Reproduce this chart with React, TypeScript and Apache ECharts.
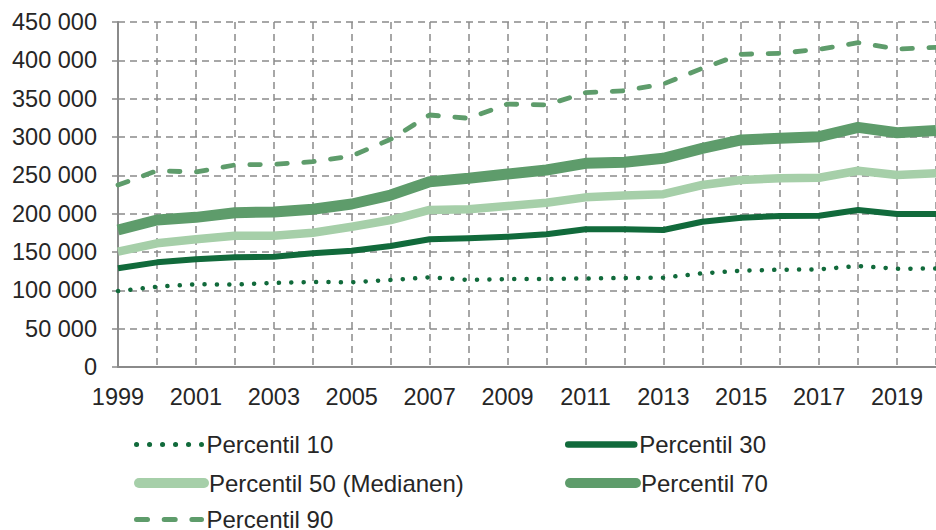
import React, { useEffect, useRef } from "react";
import * as echarts from "echarts";

const years = ["1999","2000","2001","2002","2003","2004","2005","2006","2007","2008","2009","2010","2011","2012","2013","2014","2015","2016","2017","2018","2019","2020"];
const p10 = [99100,104700,107900,107500,109600,110900,110500,113500,117000,113500,114800,114800,115500,116100,116500,122200,125600,126900,127400,131700,128200,128500];
const p30 = [128700,136500,140500,143100,143900,148300,151700,157800,166600,167900,170000,173100,179600,179600,178700,189500,194700,197000,197300,204800,199600,199600];
const p50 = [150400,161300,166600,171300,171300,175200,183000,191700,204800,205700,210000,214300,221300,223600,225400,237400,243900,246100,246900,256000,250400,252600];
const p70 = [178700,191700,195200,201300,202200,205700,212600,224300,241700,246100,251700,257000,265700,267000,272200,285200,296100,298300,300400,312600,305600,308500];
const p90 = [237400,256000,254300,263500,264400,267800,275200,297000,328700,324400,343000,341700,357800,360400,369100,389600,407900,409200,414400,423000,414800,417000];
const yTicks = [0, 50000, 100000, 150000, 200000, 250000, 300000, 350000, 400000, 450000];

const DARK = "#116a3b";
const LIGHT = "#a6cfa9";
const MID = "#5e9c6b";
const GRID = "#8a8a8a";
const TEXT = "#262626";

export default function App() {
  const ref = useRef<HTMLDivElement>(null);
  useEffect(() => {
    if (!ref.current) return;
    const chart = echarts.init(ref.current, null, { renderer: "svg" });
    const fmt = (v: number) => String(v).replace(/\B(?=(\d{3})+(?!\d))/g, " ");
    const legendText = { fontSize: 24, color: TEXT, fontFamily: "Liberation Sans, Arial, sans-serif", lineHeight: 20 };
    const hiddenSymbol = { opacity: 0, color: "rgba(0,0,0,0)", borderWidth: 0 };
    const mkLegend = (left: number, top: number, width: number, item: any) => ({
      orient: "horizontal",
      left,
      top,
      padding: 0,
      itemWidth: width,
      itemHeight: 14,
      textStyle: legendText,
      data: [{ ...item, itemStyle: hiddenSymbol }],
    });
    chart.setOption({
      animation: false,
      textStyle: { fontFamily: "Liberation Sans, Arial, sans-serif" },
      grid: { left: 118, right: -5.5, top: 22, bottom: 163, containLabel: false },
      xAxis: {
        type: "category",
        data: years,
        boundaryGap: false,
        axisLine: { show: true, lineStyle: { color: GRID, width: 2 } },
        axisTick: { show: false },
        axisLabel: { interval: 1, fontSize: 23.5, color: TEXT, margin: 18 },
        splitLine: { show: true, interval: 0, lineStyle: { color: GRID, width: 1.5, type: [7, 5] } },
      },
      yAxis: {
        type: "value",
        min: yTicks[0],
        max: yTicks[yTicks.length - 1],
        interval: 50000,
        axisLine: { show: true, lineStyle: { color: GRID, width: 2 } },
        axisTick: { show: true, length: 6, lineStyle: { color: GRID, width: 1.5 } },
        axisLabel: { fontSize: 23.5, color: TEXT, margin: 21, formatter: (v: number) => fmt(v) },
        splitLine: { show: true, lineStyle: { color: GRID, width: 1.5, type: [7, 5] } },
      },
      legend: [
        mkLegend(134, 432.5, 65, { name: "Percentil 10", lineStyle: { width: 5, type: [0.1, 12.9], cap: "round", color: DARK } }),
        mkLegend(134, 471, 65, { name: "Percentil 50 (Medianen)", lineStyle: { width: 10, type: "solid", cap: "round", color: LIGHT } }),
        mkLegend(134, 507.5, 65, { name: "Percentil 90", lineStyle: { width: 5, type: [11, 16.7], cap: "round", color: MID } }),
        mkLegend(565, 432.5, 66, { name: "Percentil 30", lineStyle: { width: 6.5, type: "solid", cap: "round", color: DARK } }),
        mkLegend(565, 471, 66, { name: "Percentil 70", lineStyle: { width: 10, type: "solid", cap: "round", color: MID } }),
      ],
      series: [
        { name: "Percentil 10", type: "line", data: p10, symbol: "none", color: DARK,
          lineStyle: { color: DARK, width: 4.5, type: [0.1, 12.3], cap: "round" } },
        { name: "Percentil 30", type: "line", data: p30, symbol: "none", color: DARK,
          lineStyle: { color: DARK, width: 6, cap: "butt", join: "round" } },
        { name: "Percentil 50 (Medianen)", type: "line", data: p50, symbol: "none", color: LIGHT,
          lineStyle: { color: LIGHT, width: 8.5, join: "round" } },
        { name: "Percentil 70", type: "line", data: p70, symbol: "none", color: MID,
          lineStyle: { color: MID, width: 11, join: "round" } },
        { name: "Percentil 90", type: "line", data: p90, symbol: "none", color: MID,
          lineStyle: { color: MID, width: 4.8, type: [10.5, 16.5], cap: "round", join: "round" } },
      ],
    });
    return () => chart.dispose();
  }, []);
  return <div ref={ref} style={{ position: "absolute", left: 0, top: 0, width: 936, height: 530 }} />;
}
